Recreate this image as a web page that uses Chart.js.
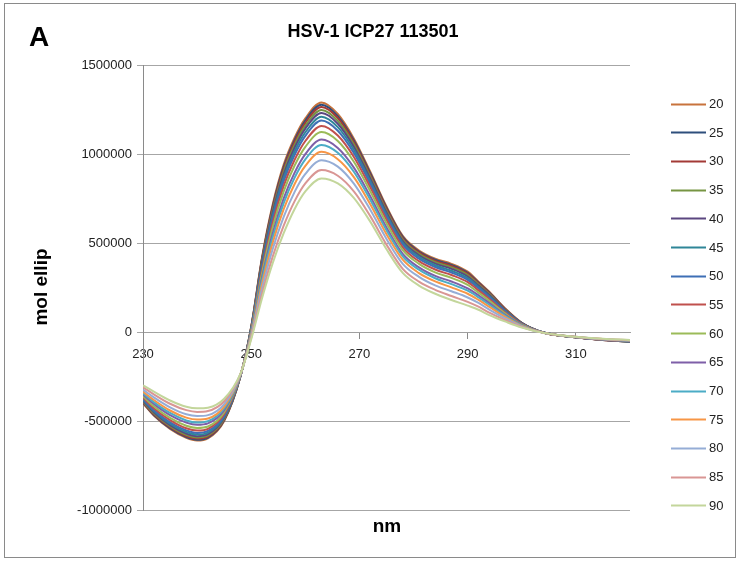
<!DOCTYPE html>
<html><head><meta charset="utf-8">
<script src="https://cdn.jsdelivr.net/npm/chart.js@4"></script>
<style>html,body{margin:0;padding:0;background:#fff;overflow:hidden}canvas{display:block}</style>
</head><body>
<canvas id="c" width="736" height="561"></canvas>
<script>
// ---- data ----
const chartTitle = 'HSV-1 ICP27 113501';
const panelLetter = 'A';
const xTitle = 'nm';
const yTitle = 'mol ellip';
const wavelengths = [230,232,235,238,240,242,245,248,250,252,254,256,258,260,263,266,269,272,275,278,281,284,287,290,292,294,297,300,304,310,315,320];
const temps = ['20','25','30','35','40','45','50','55','60','65','70','75','80','85','90'];
const xTicks = [230,250,270,290,310];
const yTicks = [-1000000,-500000,0,500000,1000000,1500000];

const s20 = [-400e3,-470e3,-545e3,-595e3,-610e3,-598e3,-500e3,-250e3,30e3,420e3,720e3,940e3,1090e3,1200e3,1290e3,1225e3,1085e3,900e3,705e3,540e3,458e3,412e3,383e3,339e3,283e3,226e3,130e3,52e3,-3e3,-30e3,-45e3,-55e3];
const s25 = [-397e3,-466e3,-540e3,-590e3,-605e3,-593e3,-496e3,-250e3,28e3,413e3,710e3,928e3,1078e3,1188e3,1277e3,1213e3,1075e3,892e3,698e3,534e3,452e3,406e3,377e3,333e3,278e3,222e3,128e3,51e3,-3e3,-30e3,-45e3,-55e3];
const s30 = [-394e3,-462e3,-535e3,-585e3,-599e3,-588e3,-492e3,-249e3,26e3,406e3,700e3,917e3,1066e3,1175e3,1264e3,1202e3,1065e3,883e3,691e3,528e3,447e3,400e3,371e3,328e3,274e3,218e3,126e3,50e3,-3e3,-30e3,-45e3,-54e3];
const s35 = [-390e3,-457e3,-529e3,-578e3,-592e3,-581e3,-488e3,-249e3,23e3,397e3,687e3,902e3,1050e3,1159e3,1247e3,1186e3,1052e3,872e3,681e3,519e3,439e3,392e3,363e3,320e3,267e3,213e3,123e3,49e3,-3e3,-30e3,-44e3,-54e3];
const s40 = [-386e3,-451e3,-523e3,-570e3,-585e3,-574e3,-482e3,-248e3,20e3,388e3,674e3,886e3,1034e3,1143e3,1230e3,1170e3,1038e3,861e3,671e3,511e3,431e3,384e3,355e3,312e3,261e3,208e3,120e3,48e3,-3e3,-30e3,-44e3,-54e3];
const s45 = [-381e3,-444e3,-515e3,-562e3,-576e3,-565e3,-476e3,-247e3,17e3,376e3,657e3,867e3,1014e3,1122e3,1209e3,1151e3,1022e3,847e3,659e3,501e3,422e3,375e3,344e3,303e3,253e3,201e3,116e3,47e3,-3e3,-29e3,-44e3,-53e3];
const s50 = [-376e3,-438e3,-507e3,-553e3,-567e3,-556e3,-470e3,-246e3,13e3,365e3,641e3,848e3,994e3,1102e3,1188e3,1131e3,1005e3,833e3,647e3,491e3,412e3,365e3,334e3,293e3,245e3,195e3,113e3,46e3,-3e3,-29e3,-43e3,-53e3];
const s55 = [-369e3,-428e3,-495e3,-541e3,-554e3,-544e3,-461e3,-245e3,8e3,349e3,618e3,821e3,966e3,1073e3,1158e3,1104e3,982e3,813e3,631e3,476e3,398e3,351e3,320e3,280e3,234e3,185e3,108e3,44e3,-4e3,-29e3,-43e3,-52e3];
const s60 = [-361e3,-417e3,-483e3,-527e3,-539e3,-531e3,-451e3,-244e3,3e3,330e3,591e3,790e3,934e3,1040e3,1123e3,1073e3,955e3,791e3,611e3,460e3,383e3,335e3,304e3,265e3,221e3,175e3,102e3,41e3,-4e3,-29e3,-42e3,-51e3];
const s65 = [-351e3,-404e3,-467e3,-509e3,-521e3,-513e3,-439e3,-243e3,-4e3,307e3,558e3,751e3,894e3,999e3,1081e3,1034e3,922e3,763e3,587e3,439e3,363e3,315e3,284e3,245e3,206e3,162e3,95e3,39e3,-4e3,-29e3,-42e3,-50e3];
const s70 = [-344e3,-394e3,-455e3,-497e3,-509e3,-501e3,-430e3,-242e3,-9e3,291e3,535e3,724e3,866e3,970e3,1051e3,1007e3,899e3,743e3,571e3,425e3,350e3,302e3,269e3,232e3,195e3,153e3,90e3,37e3,-4e3,-28e3,-41e3,-49e3];
const s75 = [-335e3,-382e3,-441e3,-481e3,-492e3,-486e3,-419e3,-240e3,-16e3,270e3,505e3,690e3,830e3,933e3,1012e3,971e3,869e3,718e3,549e3,406e3,331e3,284e3,251e3,215e3,180e3,141e3,83e3,34e3,-4e3,-28e3,-40e3,-48e3];
const s80 = [-324e3,-367e3,-423e3,-462e3,-472e3,-467e3,-405e3,-239e3,-23e3,245e3,469e3,647e3,786e3,888e3,965e3,929e3,832e3,687e3,523e3,383e3,310e3,262e3,229e3,194e3,163e3,126e3,75e3,31e3,-5e3,-28e3,-40e3,-47e3];
const s85 = [-311e3,-350e3,-403e3,-439e3,-449e3,-444e3,-389e3,-237e3,-32e3,215e3,426e3,597e3,734e3,835e3,910e3,878e3,789e3,651e3,491e3,355e3,283e3,237e3,202e3,169e3,142e3,109e3,66e3,28e3,-5e3,-27e3,-39e3,-46e3];
const s90 = [-300e3,-335e3,-385e3,-420e3,-429e3,-425e3,-375e3,-235e3,-40e3,190e3,390e3,555e3,690e3,790e3,863e3,835e3,752e3,620e3,465e3,332e3,261e3,215e3,180e3,148e3,125e3,95e3,58e3,25e3,-5e3,-27e3,-38e3,-45e3];

const seriesValues = [s20,s25,s30,s35,s40,s45,s50,s55,s60,s65,s70,s75,s80,s85,s90];
const colors = ['#C8733C','#2E4F7C','#A33A36','#779543','#5B4680','#2F8698','#3E6FB5','#C0504D','#9BBB59','#7E5FA8','#4BACC6','#F79646','#95ADD6','#D99694','#C3D69B'];

// ---- chart ----
const FONT = "'Liberation Sans', Arial, sans-serif";
const decor = {
  id: 'decor',
  beforeDraw(chart) {
    const c = chart.ctx;
    c.save();
    c.fillStyle = '#fff';
    c.fillRect(0, 0, chart.width, chart.height);
    c.strokeStyle = '#8a8a8a';
    c.lineWidth = 1;
    c.strokeRect(4.5, 3.5, 731, 554);
    c.restore();
  },
  afterDraw(chart) {
    const c = chart.ctx;
    c.save();
    c.fillStyle = '#000';
    c.textBaseline = 'middle';
    c.textAlign = 'left';
    c.font = 'bold 28px ' + FONT;
    c.fillText(panelLetter, 29, 38);
    c.textAlign = 'center';
    c.font = 'bold 18px ' + FONT;
    c.fillText(chartTitle, 373, 32);
    c.font = 'bold 19px ' + FONT;
    c.fillText(xTitle, 387, 527);
    c.save();
    c.translate(42, 287);
    c.rotate(-Math.PI / 2);
    c.fillText(yTitle, 0, 0);
    c.restore();
    // legend
    c.font = '13px ' + FONT;
    c.textAlign = 'left';
    chart.data.datasets.forEach((ds, i) => {
      const y = 103.5 + i * 28.7;
      c.strokeStyle = ds.borderColor;
      c.lineWidth = 2;
      c.beginPath();
      c.moveTo(671, Math.round(y) + 0.5);
      c.lineTo(706, Math.round(y) + 0.5);
      c.stroke();
      c.fillStyle = '#222';
      c.fillText(ds.label, 709, y + 1);
    });
    c.restore();
  }
};

const datasets = seriesValues.map((vals, i) => ({
  label: temps[i],
  data: vals.map((v, j) => ({x: wavelengths[j], y: v})),
  borderColor: colors[i],
  backgroundColor: colors[i],
  borderWidth: 2,
  pointRadius: 0,
  fill: false,
  cubicInterpolationMode: 'monotone',
  order: seriesValues.length - i
}));

new Chart(document.getElementById('c').getContext('2d'), {
  type: 'line',
  data: {datasets},
  options: {
    responsive: false,
    animation: false,
    devicePixelRatio: 1,
    layout: {padding: {left: 68, right: 106, top: 65, bottom: 51}},
    plugins: {legend: {display: false}, tooltip: {enabled: false}, title: {display: false}},
    scales: {
      x: {
        type: 'linear', min: 230, max: 320, position: {y: 0},
        afterBuildTicks: s => { s.ticks = xTicks.map(v => ({value: v})); },
        grid: {drawOnChartArea: false, drawTicks: true, tickLength: 6, color: '#8a8a8a'},
        border: {display: true, color: '#a0a0a0', width: 1},
        ticks: {font: {family: FONT, size: 13}, color: '#222', padding: 9, maxRotation: 0, autoSkip: false, callback: v => String(v)}
      },
      y: {
        min: -1000000, max: 1500000,
        afterBuildTicks: s => { s.ticks = yTicks.map(v => ({value: v})); },
        afterFit: s => { s.width = 75; },
        grid: {color: '#a6a6a6', tickLength: 6, drawTicks: true},
        border: {display: true, color: '#8a8a8a'},
        ticks: {font: {family: FONT, size: 13}, color: '#222', padding: 5, callback: v => String(v)}
      }
    }
  },
  plugins: [decor]
});
</script>
</body></html>
